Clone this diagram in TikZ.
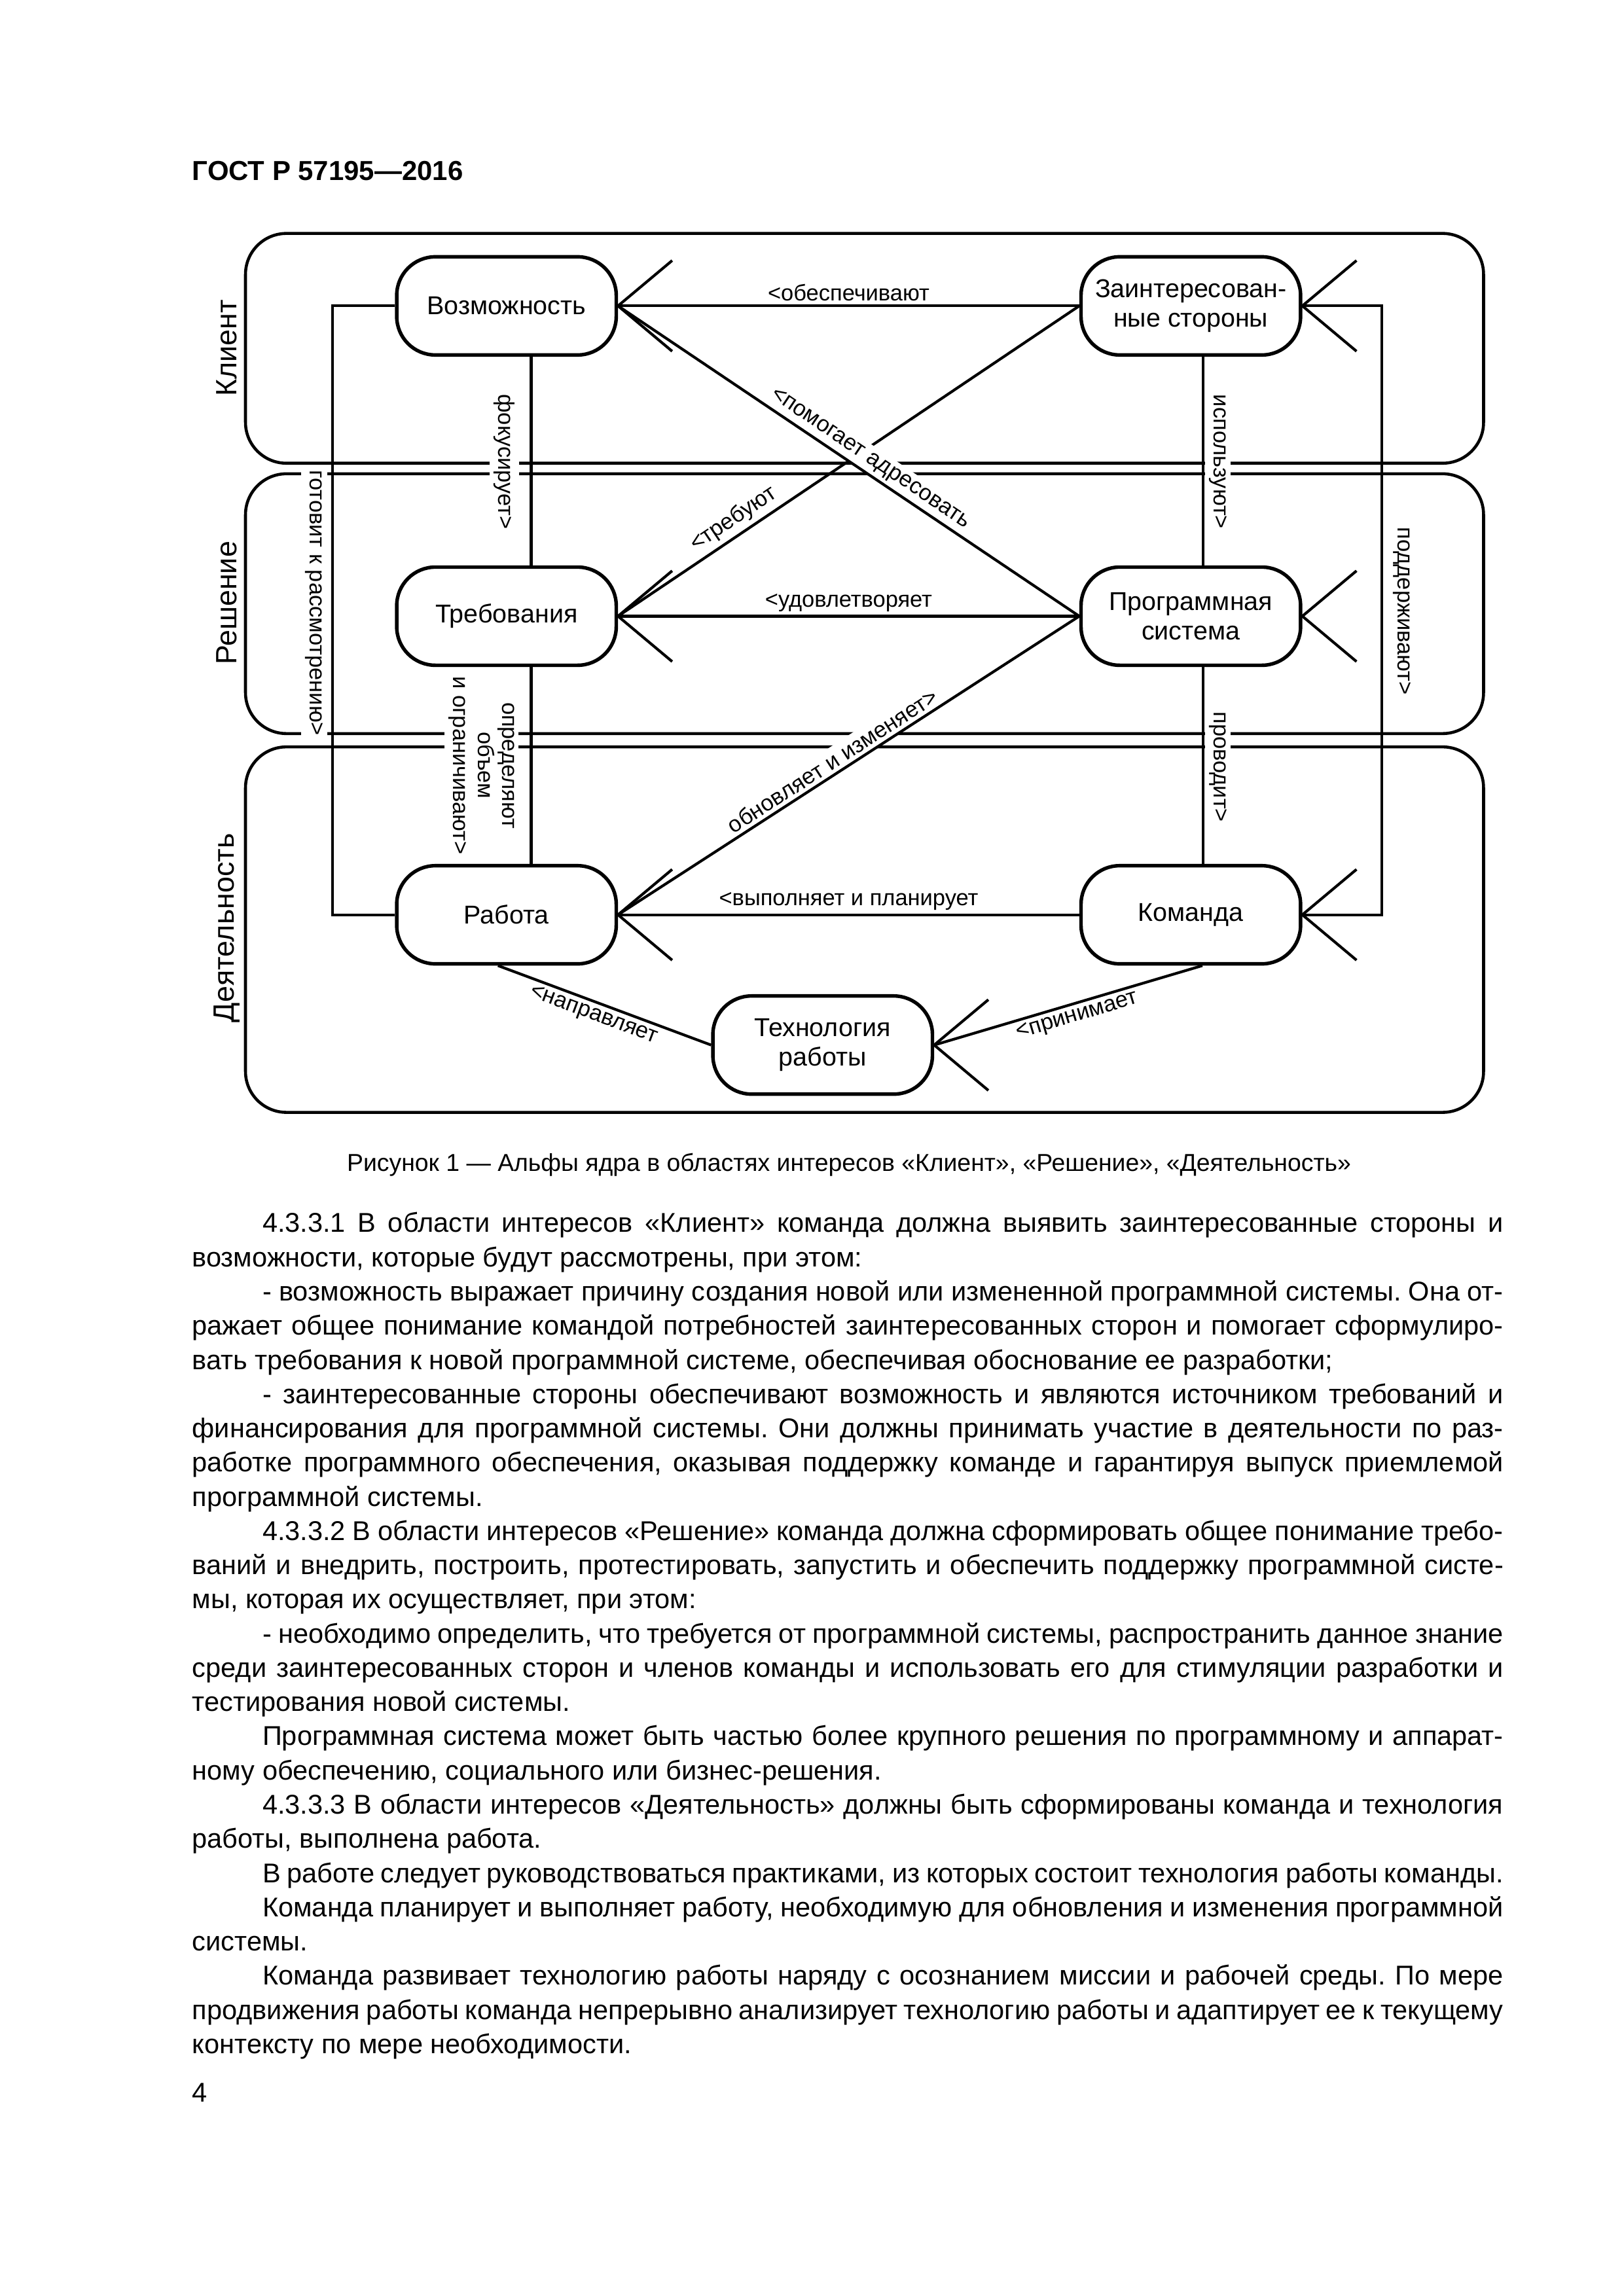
\documentclass[tikz,border=0pt]{standalone}
\usepackage{fontspec}
\setmainfont{Liberation Sans}
\usetikzlibrary{backgrounds}
\frenchspacing
\newcommand\jfull[1]{\makebox[16.96cm][s]{#1}}
\newcommand\jind[1]{\makebox[16.05cm][s]{#1}}
\begin{document}
\begin{tikzpicture}[x=0.018936cm,y=-0.018936cm,
  region/.style={draw,line width=1.1pt,rounded corners=0.53cm},
  alpha/.style={draw,line width=1.3pt,rounded corners=0.5cm,minimum width=2.84cm,minimum height=1.27cm,align=center,inner sep=1pt,font=\fontsize{9.5}{10.8}\selectfont},
  conn/.style={line width=1pt},
  elab/.style={font=\fontsize{8.3}{9}\selectfont,inner sep=1.5pt},
  wlab/.style={elab,fill=white},
  vlab/.style={font=\fontsize{8.3}{9}\selectfont,rotate=-90,fill=white,inner sep=1.5pt,align=center},
  reglab/.style={font=\fontsize{10.8}{12}\selectfont,rotate=90},
  bodyline/.style={font=\fontsize{10}{12}\selectfont,anchor=base west,inner sep=0pt},
]
\useasboundingbox (0,0) rectangle (1109,1568.7);

% alphas
\node[alpha] (vozm) at (346,209) {Возможность};
\node[alpha] (zain) at (813.5,209) {Заинтересован-\\ные стороны};
\node[alpha] (treb) at (346,421) {Требования};
\node[alpha] (prog) at (813.5,421) {Программная\\система};
\node[alpha] (rab) at (346,625) {Работа};
\node[alpha] (kom) at (813.5,625) {Команда};
\node[alpha] (tech) at (562,714) {Технология\\работы};

\coordinate (lx) at (227,0);
\coordinate (rx) at (944,0);

\begin{scope}[on background layer]
% regions
\draw[region] (167.7,159.5) rectangle (1013.5,316.5);
\draw[region] (167.7,323.7) rectangle (1013.5,501.2);
\draw[region] (167.7,510.3) rectangle (1013.5,760);
\node[reglab] (rk) at (155,238) {Клиент};
\node[reglab] (rr) at (155,412) {Решение};
\node[reglab] (rd) at (155,634) {Деятельность};

% line cut by a label
\draw[conn] (treb.east) -- (zain.west) node[elab,sloped,above,pos=0.27] (l3) {<требуют};

% labels
\path (vozm.east) -- (zain.west) node[elab,above,midway] (l1) {<обеспечивают};
\path (vozm.east) -- (prog.west) node[wlab,sloped,above,pos=0.53] (l2) {<помогает адресовать};
\path (treb.east) -- (prog.west) node[elab,above,midway] (l4) {<удовлетворяет};
\path (rab.east) -- (prog.west) node[wlab,sloped,above,pos=0.48] (l5) {обновляет и изменяет>};
\path (rab.east) -- (kom.west) node[elab,above,midway] (l6) {<выполняет и планирует};
\path ([xshift=-0.11cm]rab.south) -- (tech.west) node[elab,sloped,below,pos=0.47] (l7) {<направляет};
\path (tech.east) -- ([xshift=0.15cm]kom.south) node[elab,sloped,below,pos=0.52] (l8) {<принимает};

\node[vlab] (lfok) at (344.5,315.5) {фокусирует>};
\node[vlab] (lisp) at (832,315.5) {используют>};
\node[vlab] (lgot) at (214.5,412) {готовит к рассмотрению>};
\node[vlab] (lopr) at (329,523) {определяют\\объем\\и ограничивают>};
\node[vlab] (lpro) at (832,524) {проводит>};
\node[vlab,fill=none] (lpod) at (958,417.5) {поддерживают>};

% connectors
\draw[conn] (vozm.east) -- (zain.west);
\draw[conn] (vozm.east) -- (prog.west);
\draw[conn] (treb.east) -- (prog.west);
\draw[conn] (rab.east) -- (prog.west);
\draw[conn] (rab.east) -- (kom.west);
\draw[conn] ([xshift=-0.11cm]rab.south) -- (tech.west);
\draw[conn] (tech.east) -- ([xshift=0.15cm]kom.south);
\draw[conn] ([xshift=0.32cm]vozm.south) -- ([xshift=0.32cm]treb.north);
\draw[conn] ([xshift=0.32cm]treb.south) -- ([xshift=0.32cm]rab.north);
\draw[conn] ([xshift=0.16cm]zain.south) -- ([xshift=0.16cm]prog.north);
\draw[conn] ([xshift=0.16cm]prog.south) -- ([xshift=0.16cm]kom.north);
\draw[conn] (vozm.west) -- (vozm.west -| lx) -- (rab.west -| lx) -- (rab.west);
\draw[conn] (zain.east) -- (zain.east -| rx) -- (kom.east -| rx) -- (kom.east);

% open arrowheads
\foreach \n in {vozm,treb,rab,zain,prog,kom,tech}
  \draw[conn] (\n.east) ++(37,-31) -- (\n.east) -- ++(37,31);
\end{scope}

% page text
\node[anchor=base west,inner sep=0pt,font=\fontsize{10.1}{12}\selectfont\bfseries] (hdr) at (131,123) {ГОСТ Р 57195—2016};
\node[anchor=base,inner sep=0pt,font=\fontsize{9}{11}\selectfont] (cap) at (580,800) {Рисунок 1 — Альфы ядра в областях интересов «Клиент», «Решение», «Деятельность»};

\node[bodyline] (t01) at (179,842) {\jind{4.3.3.1 В области интересов «Клиент» команда должна выявить заинтересованные стороны и}};
\node[bodyline] (t02) at (131,865.4) {возможности, которые будут рассмотрены, при этом:};
\node[bodyline] (t03) at (179,888.75) {\jind{- возможность выражает причину создания новой или измененной программной системы. Она от-}};
\node[bodyline] (t04) at (131,912.1) {\jfull{ражает общее понимание командой потребностей заинтересованных сторон и помогает сформулиро-}};
\node[bodyline] (t05) at (131,935.5) {вать требования к новой программной системе, обеспечивая обоснование ее разработки;};
\node[bodyline] (t06) at (179,958.9) {\jind{- заинтересованные стороны обеспечивают возможность и являются источником требований и}};
\node[bodyline] (t07) at (131,982.25) {\jfull{финансирования для программной системы. Они должны принимать участие в деятельности по раз-}};
\node[bodyline] (t08) at (131,1005.6) {\jfull{работке программного обеспечения, оказывая поддержку команде и гарантируя выпуск приемлемой}};
\node[bodyline] (t09) at (131,1029) {программной системы.};
\node[bodyline] (t10) at (179,1052.4) {\jind{4.3.3.2 В области интересов «Решение» команда должна сформировать общее понимание требо-}};
\node[bodyline] (t11) at (131,1075.75) {\jfull{ваний и внедрить, построить, протестировать, запустить и обеспечить поддержку программной систе-}};
\node[bodyline] (t12) at (131,1099.1) {мы, которая их осуществляет, при этом:};
\node[bodyline] (t13) at (179,1122.5) {\jind{- необходимо определить, что требуется от программной системы, распространить данное знание}};
\node[bodyline] (t14) at (131,1145.9) {\jfull{среди заинтересованных сторон и членов команды и использовать его для стимуляции разработки и}};
\node[bodyline] (t15) at (131,1169.25) {тестирования новой системы.};
\node[bodyline] (t16) at (179,1192.6) {\jind{Программная система может быть частью более крупного решения по программному и аппарат-}};
\node[bodyline] (t17) at (131,1216) {ному обеспечению, социального или бизнес-решения.};
\node[bodyline] (t18) at (179,1239.4) {\jind{4.3.3.3 В области интересов «Деятельность» должны быть сформированы команда и технология}};
\node[bodyline] (t19) at (131,1262.75) {работы, выполнена работа.};
\node[bodyline] (t20) at (179,1286.1) {\jind{В работе следует руководствоваться практиками, из которых состоит технология работы команды.}};
\node[bodyline] (t21) at (179,1309.5) {\jind{Команда планирует и выполняет работу, необходимую для обновления и изменения программной}};
\node[bodyline] (t22) at (131,1332.9) {системы.};
\node[bodyline] (t23) at (179,1356.25) {\jind{Команда развивает технологию работы наряду с осознанием миссии и рабочей среды. По мере}};
\node[bodyline] (t24) at (131,1379.6) {\jfull{продвижения работы команда непрерывно анализирует технологию работы и адаптирует ее к текущему}};
\node[bodyline] (t25) at (131,1403) {контексту по мере необходимости.};
\node[bodyline] (pg) at (131,1436) {4};
\end{tikzpicture}
\end{document}
